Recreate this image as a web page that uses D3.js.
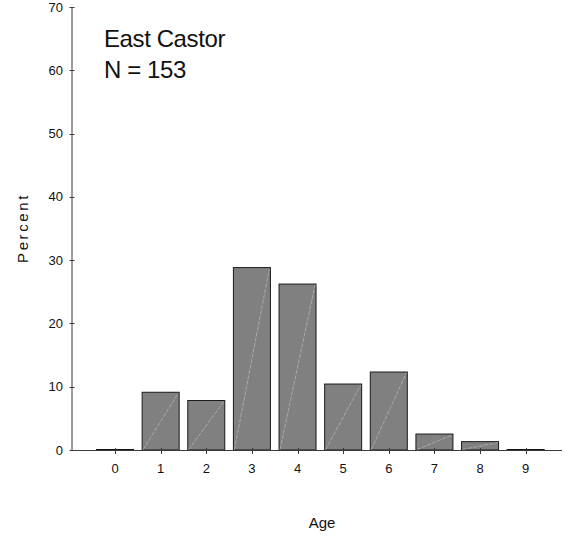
<!DOCTYPE html>
<html>
<head>
<meta charset="utf-8">
<script src="https://cdn.jsdelivr.net/npm/d3@7"></script>
<style>
  html, body { margin: 0; padding: 0; background: #fff; }
  svg { display: block; font-family: "Liberation Sans", Arial, sans-serif; }
</style>
</head>
<body>
<svg id="chart" width="564" height="541"></svg>
<script>
const ages = [0, 1, 2, 3, 4, 5, 6, 7, 8, 9];
const percents = [0, 9.2, 7.9, 28.9, 26.3, 10.5, 12.4, 2.6, 1.4, 0];
const yTicks = [0, 10, 20, 30, 40, 50, 60, 70];
const titleLines = ["East Castor", "N = 153"];
const xLabel = "Age";
const yLabel = "Percent";

const svg = d3.select("#chart");
const x = d3.scaleBand().domain(ages).range([92.2, 548.5]).paddingInner(0.167).paddingOuter(0.0835);
const y = d3.scaleLinear().domain([0, 70]).range([450, 7]);

const axisColor = "#3a3a3a";

// bars
const bars = svg.append("g");
ages.forEach((a, i) => {
  const v = percents[i];
  const x0 = x(a), w = x.bandwidth();
  if (v === 0) {
    bars.append("line")
      .attr("x1", x0).attr("x2", x0 + w)
      .attr("y1", y(0)).attr("y2", y(0))
      .attr("stroke", "#111").attr("stroke-width", 2.2);
  } else {
    bars.append("rect")
      .attr("x", x0 + 0.5).attr("y", y(v) + 0.5)
      .attr("width", w - 1).attr("height", y(0) - y(v) - 0.5)
      .attr("fill", "#808080")
      .attr("stroke", "#1a1a1a").attr("stroke-width", 1);
    bars.append("line")
      .attr("x1", x0 + 1.5).attr("y1", y(0) - 0.5)
      .attr("x2", x0 + w - 1.5).attr("y2", y(v) + 1.5)
      .attr("stroke", "#b4b4b4").attr("stroke-width", 0.8)
      .attr("stroke-dasharray", "4,1.5");
  }
});

// y axis
const gy = svg.append("g");
gy.append("line").attr("x1", 72).attr("x2", 72).attr("y1", y(70)).attr("y2", y(0))
  .attr("stroke", axisColor).attr("stroke-width", 1);
yTicks.forEach(t => {
  gy.append("line").attr("x1", 69.5).attr("x2", 74.5).attr("y1", Math.round(y(t)) + 0.5).attr("y2", Math.round(y(t)) + 0.5)
    .attr("stroke", axisColor).attr("stroke-width", 1);
  gy.append("text").attr("x", 63).attr("y", y(t)).attr("dy", "0.35em")
    .attr("text-anchor", "end").attr("font-size", 13).attr("fill", "#111").text(t);
});

// x axis
const gx = svg.append("g");
gx.append("line").attr("x1", 72).attr("x2", 562).attr("y1", 450.5).attr("y2", 450.5)
  .attr("stroke", axisColor).attr("stroke-width", 1);
ages.forEach(a => {
  const cx = Math.round(x(a) + x.bandwidth() / 2) + 0.5;
  gx.append("line").attr("x1", cx).attr("x2", cx).attr("y1", 448).attr("y2", 454)
    .attr("stroke", axisColor).attr("stroke-width", 1);
  gx.append("text").attr("x", x(a) + x.bandwidth() / 2).attr("y", 473)
    .attr("text-anchor", "middle").attr("font-size", 13).attr("fill", "#111").text(a);
});

// axis titles
svg.append("text").attr("x", 322).attr("y", 528).attr("text-anchor", "middle")
  .attr("font-size", 15).attr("fill", "#111").text(xLabel);
svg.append("text").attr("transform", "translate(28,228) rotate(-90)")
  .attr("text-anchor", "middle").attr("font-size", 15).attr("letter-spacing", 2.6)
  .attr("fill", "#111").text(yLabel);

// title
titleLines.forEach((s, i) => {
  svg.append("text").attr("x", 104).attr("y", 47 + i * 31)
    .attr("font-size", 24).attr("letter-spacing", -0.4).attr("fill", "#111").text(s);
});
</script>
</body>
</html>
